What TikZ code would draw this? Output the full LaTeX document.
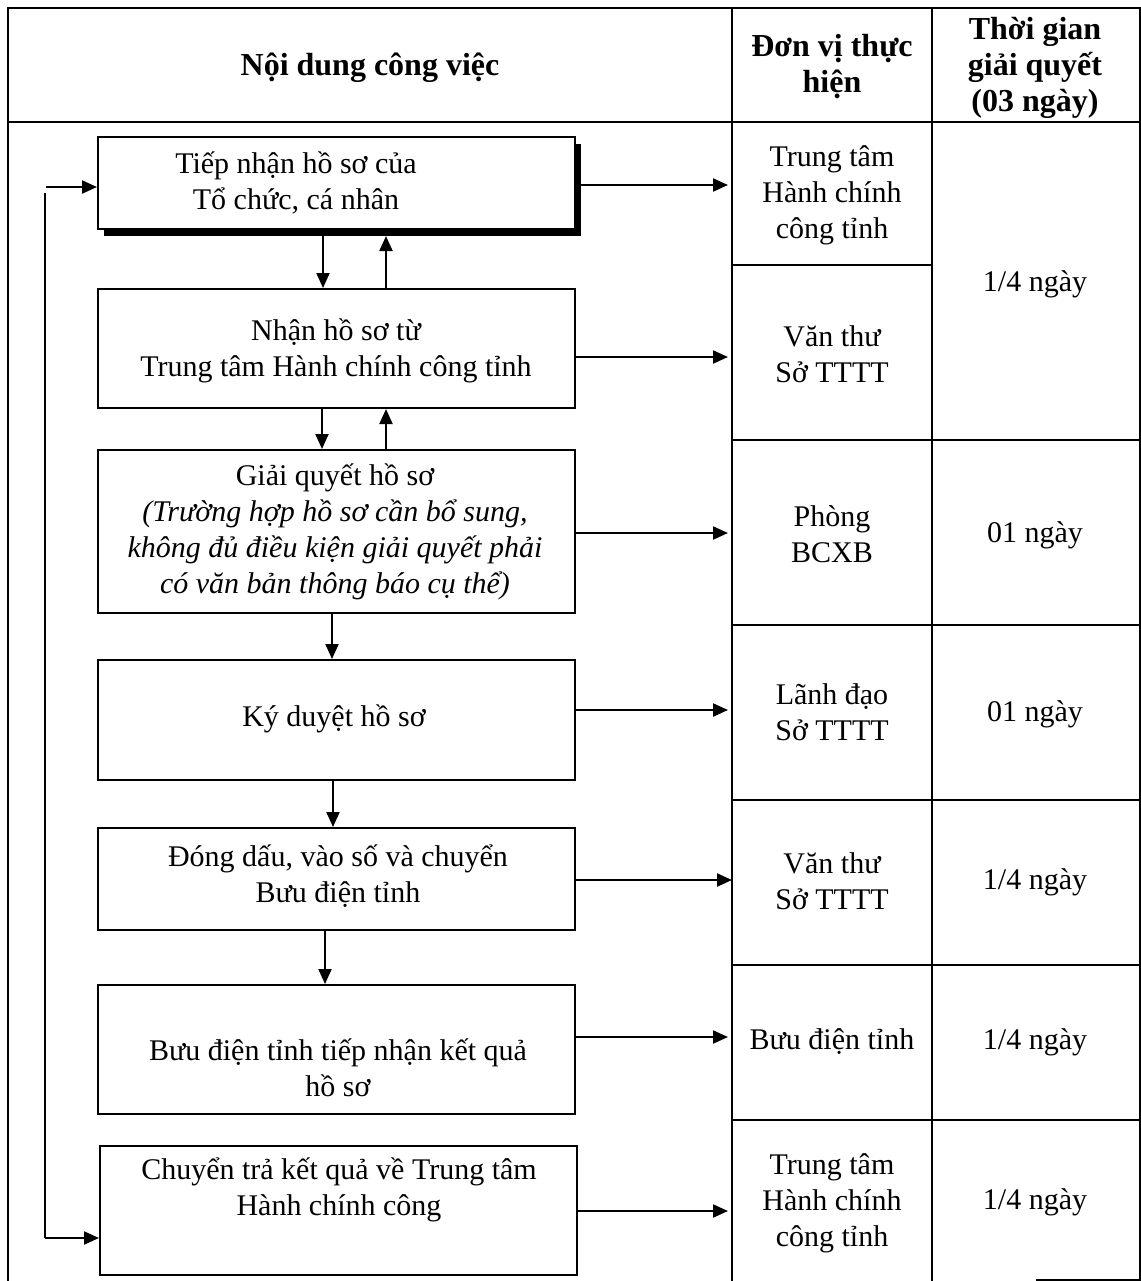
\documentclass[tikz,border=0pt]{standalone}
\usepackage{fontspec}
\setmainfont{Liberation Serif}
\usetikzlibrary{arrows.meta,shadows}
\begin{document}
\begin{tikzpicture}[x=0.5pt,y=-0.5pt,
  frame/.style={line width=0.8pt},
  stepbox/.style={draw, line width=1pt, fill=white, rectangle, minimum width=238.5pt, inner sep=0pt},
  arr/.style={-{Triangle[length=7.5pt,width=6.5pt]}, line width=1.05pt},
  plain/.style={line width=1.05pt},
  txt/.style={font=\fontsize{15}{18}\selectfont, align=center, inner sep=0pt},
  head/.style={font=\fontsize{16}{18}\selectfont\bfseries, align=center, inner sep=0pt}
]
\useasboundingbox (0,0) rectangle (1141,1281);
% table frame
\draw[frame] (8,1281) -- (8,8) -- (1140,8) -- (1140,1280) -- (1036,1280);
\draw[frame] (732,8) -- (732,1281);
\draw[frame] (932,8) -- (932,1281);
\draw[frame] (8,122) -- (1140,122);
\draw[frame] (732,265) -- (932,265);
\foreach \yy in {440,625,800,965,1120} \draw[frame] (732,\yy) -- (1140,\yy);
% header
\node[head] (h1) at (370,68) {Nội dung công việc};
\node[head] (h2) at (832,67) {Đơn vị thực\\hiện};
\node[head] (h3) at (1035,68) {Thời gian\\giải quyết\\(03 ngày)};
% unit cells
\node[txt] (u1) at (832,195) {Trung tâm\\Hành chính\\công tỉnh};
\node[txt] (u2) at (832,354) {Văn thư\\Sở TTTT};
\node[txt] (u3) at (832,534) {Phòng\\BCXB};
\node[txt] (u4) at (832,712) {Lãnh đạo\\Sở TTTT};
\node[txt] (u5) at (832,881) {Văn thư\\Sở TTTT};
\node[txt] (u6) at (832,1042) {Bưu điện tỉnh};
\node[txt] (u7) at (832,1203) {Trung tâm\\Hành chính\\công tỉnh};
% time cells
\node[txt] (c1) at (1035,284) {1/4 ngày};
\node[txt] (c2) at (1035,535) {01 ngày};
\node[txt] (c3) at (1035,714) {01 ngày};
\node[txt] (c4) at (1035,882) {1/4 ngày};
\node[txt] (c5) at (1035,1042) {1/4 ngày};
\node[txt] (c6) at (1035,1202) {1/4 ngày};
% boxes
\node[stepbox, minimum height=46pt, drop shadow={fill=black, opacity=1, shadow xshift=3pt, shadow yshift=-3.5pt}] (b1) at (336.5,183) {};
\node[stepbox, minimum height=59.5pt] (b2) at (336.5,348.5) {};
\node[stepbox, minimum height=81.5pt] (b3) at (336.5,531.5) {};
\node[stepbox, minimum height=60pt] (b4) at (336.5,720) {};
\node[stepbox, minimum height=51pt] (b5) at (336.5,879) {};
\node[stepbox, minimum height=64.5pt] (b6) at (336.5,1049.5) {};
\node[stepbox, minimum height=64.5pt] (b7) at (338.5,1210.5) {};
% box texts
\node[txt] (t1) at (296,183) {Tiếp nhận hồ sơ của\\Tổ chức, cá nhân};
\node[txt] (t2) at (336,351) {Nhận hồ sơ từ\\Trung tâm Hành chính công tỉnh};
\node[txt] (t3) at (335,532) {Giải quyết hồ sơ\\\textit{(Trường hợp hồ sơ cần bổ sung,}\\\textit{không đủ điều kiện giải quyết phải}\\\textit{có văn bản thông báo cụ thể)}};
\node[txt] (t4) at (334,719) {Ký duyệt hồ sơ};
\node[txt] (t5) at (338,876) {Đóng dấu, vào số và chuyển\\Bưu điện tỉnh};
\node[txt] (t6) at (338,1068) {Bưu điện tỉnh tiếp nhận kết quả\\hồ sơ};
\node[txt] (t7) at (339,1190) {Chuyển trả kết quả về Trung tâm\\Hành chính công};
% right arrows
\coordinate (e1) at (728,185);
\coordinate (e2) at (728,357);
\coordinate (e3) at (728,533);
\coordinate (e4) at (728,710);
\coordinate (e5) at (732,880);
\coordinate (e6) at (728,1037);
\coordinate (e7) at (728,1211);
\coordinate (s1) at (581,185);
\draw[arr] (s1) -- (e1);
\draw[arr] (b2.east |- e2) -- (e2);
\draw[arr] (b3.east |- e3) -- (e3);
\draw[arr] (b4.east |- e4) -- (e4);
\draw[arr] (b5.east |- e5) -- (e5);
\draw[arr] (b6.east |- e6) -- (e6);
\draw[arr] (b7.east |- e7) -- (e7);
% vertical arrows
\coordinate (d1) at (323,0);
\coordinate (p1) at (386,236);
\coordinate (d2) at (322,0);
\coordinate (p2) at (386,0);
\coordinate (d3) at (332,0);
\coordinate (d4) at (333,0);
\coordinate (d5) at (325,0);
\draw[arr] (d1 |- b1.south) -- (d1 |- b2.north);
\draw[arr] (p1 |- b2.north) -- (p1);
\draw[arr] (d2 |- b2.south) -- (d2 |- b3.north);
\draw[arr] (p2 |- b3.north) -- (p2 |- b2.south);
\draw[arr] (d3 |- b3.south) -- (d3 |- b4.north);
\draw[arr] (d4 |- b4.south) -- (d4 |- b5.north);
\draw[arr] (d5 |- b5.south) -- (d5 |- b6.north);
% loop back
\coordinate (lt) at (46,187);
\coordinate (lv) at (45,193);
\coordinate (lb) at (45,1238);
\draw[plain] (lv) -- (lb);
\draw[arr] (lt) -- (b1.west |- lt);
\draw[arr] (lb) -- (b7.west |- lb);
\end{tikzpicture}
\end{document}
